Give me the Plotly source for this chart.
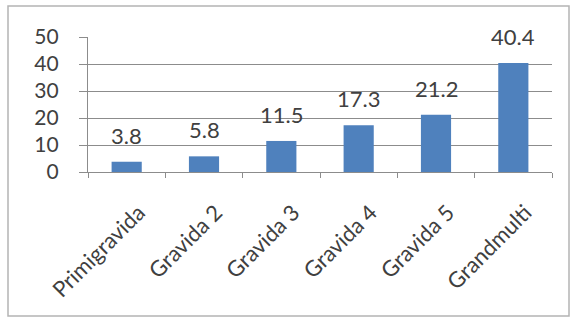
import plotly.graph_objects as go

categories = ["Primigravida", "Gravida 2", "Gravida 3", "Gravida 4", "Gravida 5", "Grandmulti"]
values = [3.8, 5.8, 11.5, 17.3, 21.2, 40.4]
y_ticks = [0, 10, 20, 30, 40, 50]

FONT = "Lato"
GRID = "#8c8c8c"
TXT = "#404040"

fig = go.Figure()
fig.add_trace(go.Bar(x=categories, y=values, marker=dict(color="#4f81bd", line=dict(width=0)),
                     hoverinfo="skip"))

for c, v in zip(categories, values):
    fig.add_annotation(x=c, y=v, text=f"{v:.1f}", showarrow=False, yanchor="bottom", yshift=11,
                       font=dict(family=FONT, size=22, color=TXT))

L, R, T, B = 88, 24, 37, 151
W, H = 576, 323
pw, ph = W - L - R, H - T - B
fig.add_shape(type="rect", xref="paper", yref="paper",
              x0=(8 - L) / pw, x1=(569 - L) / pw,
              y0=(H - B - 316) / ph, y1=(H - B - 6) / ph,
              line=dict(color="#b4b4b4", width=1.5), layer="below")

fig.update_layout(
    width=W, height=H, margin=dict(l=L, r=R, t=T, b=B),
    paper_bgcolor="white", plot_bgcolor="white",
    bargap=0.61, showlegend=False,
    xaxis=dict(showline=True, linecolor=GRID, linewidth=1.2, ticks="outside", ticklen=5,
               tickcolor=GRID, tickwidth=1.2, tickangle=-45, tickson="boundaries",
               tickfont=dict(family=FONT, size=22, color=TXT), showgrid=False,
               ticklabelshift=12, ticklabelstandoff=18),
    yaxis=dict(range=[0, 50], tickvals=y_ticks, showline=True, linecolor=GRID, linewidth=1.2,
               showgrid=True, gridcolor=GRID, gridwidth=1.2, ticks="outside", ticklen=8,
               tickcolor=GRID, tickwidth=1.2, zeroline=False,
               tickfont=dict(family=FONT, size=21, color=TXT), ticklabelstandoff=16),
)

fig.write_html("out.html")
